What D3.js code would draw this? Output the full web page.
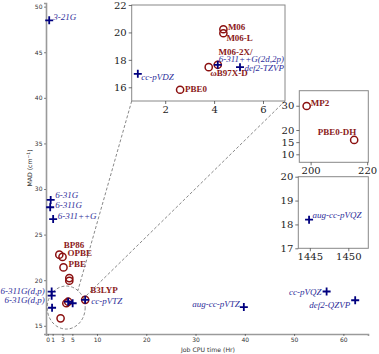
<!DOCTYPE html>
<html>
<head>
<meta charset="utf-8">
<script src="https://cdn.jsdelivr.net/npm/d3@7"></script>
<style>
  body { margin: 0; background: #fff; }
  svg { display: block; }
</style>
</head>
<body>
<div id="chart"></div>
<script>
// functionals (red circles): job CPU time (hr) and MAD (cm-1)
var functionals = ["BP86", "OPBE", "PBE", "M06", "M06-L", "M06-2X/", "\u03c9B97X-D", "PBE0", "B3LYP", "MP2", "PBE0-DH"];
var funcTime = [2.35, 3.0, 3.2, 4.38, 4.38, 4.15, 3.78, 2.61, 7.6, 198.6, 215.4];
var funcMad = [22.8, 22.55, 21.4, 20.23, 19.94, 17.64, 17.47, 15.82, 17.85, 29.9, 15.9];

// basis sets (blue plus)
var basisSets = ["3-21G", "6-31G", "6-311G", "6-311++G", "6-311G(d,p)", "6-31G(d,p)", "cc-pVDZ",
                 "6-311++G(2d,2p)", "def2-TZVP", "cc-pVTZ", "aug-cc-pVTZ", "cc-pVQZ", "def2-QZVP", "aug-cc-pVQZ"];
var basisTime = [0.3, 0.6, 0.5, 1.1, 0.8, 0.8, 0.88, 4.15, 5.06, 7.6, 39.8, 56.6, 62.4, 1444.9];
var basisMad = [48.5, 28.8, 28.0, 26.7, 18.75, 18.3, 16.98, 17.64, 17.47, 17.85, 17.05, 18.76, 17.8, 18.2];

// tick values
var mainXTicks = [0, 1, 3, 5, 10, 20, 30, 40, 50, 60];
var mainYTicks = [15, 20, 25, 30, 35, 40, 45, 50];
var zoomXTicks = [2, 4, 6];
var zoomYTicks = [16, 18, 20, 22];
var mp2XTicks = [200, 220];
var mp2YTicks = [10, 15, 20, 30];
var qzXTicks = [1445, 1450];
var qzYTicks = [17, 18, 19, 20];

var width = 379, height = 354;
var red = "#8b1010", redLabel = "#8b1a1a";
var blue = "#00007f", blueLabel = "#2e2e9a";

var svg = d3.select("#chart").append("svg")
    .attr("width", width)
    .attr("height", height);

// label offsets per panel: [dx, dy, anchor]
var mainLabels = {
    "3-21G": [4, 0, "start"], "6-31G": [4.5, -1.5, "start"], "6-311G": [5, 0.5, "start"],
    "6-311++G": [4.5, -0.5, "start"], "6-311G(d,p)": [-7, 2, "end"], "6-31G(d,p)": [-7, 7.5, "end"],
    "cc-pVTZ": [6, 4.5, "start"], "aug-cc-pVTZ": [-4, 0, "end"], "cc-pVQZ": [-5, 3, "end"],
    "def2-QZVP": [-5, 7.5, "end"],
    "BP86": [4.5, -7, "start"], "OPBE": [5, -1, "start"], "PBE": [5, 0, "start"], "B3LYP": [5, -7, "start"]
};
var zoomLabels = {
    "cc-pVDZ": [3.5, 6.5, "start"], "PBE0": [5, 2.5, "start"], "\u03c9B97X-D": [1.5, 8.7, "start"],
    "M06-2X/": [0.7, -9.5, "start"], "6-311++G(2d,2p)": [1, -2.5, "start"], "def2-TZVP": [4.5, 3.5, "start"],
    "M06": [4.5, 0.7, "start"], "M06-L": [3, 7.7, "start"]
};
var mp2Labels = { "MP2": [4, 0.5, "start"], "PBE0-DH": [2, -4.5, "end"] };
var qzLabels = { "aug-cc-pVQZ": [3.5, -1.5, "start"] };

// onlyLabelled: insets show just the marks that they label
function drawMarks(g, x, y, labels, onlyLabelled) {
    var xd = x.domain(), yd = y.domain();
    function keep(d) {
        if(onlyLabelled && !labels[d.name]) return false;
        return d.t >= xd[0] && d.t <= xd[1] && d.m >= yd[0] && d.m <= yd[1];
    }

    var fdata = functionals.map(function(n, i) { return {name: n, t: funcTime[i], m: funcMad[i], kind: "f"}; })
        .filter(keep);
    var bdata = basisSets.map(function(n, i) { return {name: n, t: basisTime[i], m: basisMad[i], kind: "b"}; })
        .filter(keep);

    g.selectAll("circle.func")
        .data(fdata)
      .enter()
        .append("circle")
        .attr("class", "func")
        .attr("cx", function(d) { return x(d.t); })
        .attr("cy", function(d) { return y(d.m); })
        .attr("r", 3.6)
        .attr("fill", "none")
        .attr("stroke", red)
        .attr("stroke-width", 1.5);

    g.selectAll("path.basis")
        .data(bdata)
      .enter()
        .append("path")
        .attr("class", "basis")
        .attr("d", function(d) {
            var cx = x(d.t), cy = y(d.m), s = 4;
            return "M" + (cx - s) + "," + cy + "H" + (cx + s) + "M" + cx + "," + (cy - s) + "V" + (cy + s);
        })
        .attr("stroke", blue)
        .attr("stroke-width", 1.8);

    var lab = fdata.concat(bdata).filter(function(d) { return labels[d.name]; });

    g.selectAll("text.lab")
        .data(lab)
      .enter()
        .append("text")
        .attr("class", "lab")
        .attr("x", function(d) { return x(d.t) + labels[d.name][0]; })
        .attr("y", function(d) { return y(d.m) + labels[d.name][1]; })
        .attr("text-anchor", function(d) { return labels[d.name][2]; })
        .attr("font-family", "'Liberation Serif', 'Times New Roman', serif")
        .attr("font-size", 9)
        .attr("font-weight", function(d) { return d.kind == "f" ? "bold" : "normal"; })
        .attr("font-style", function(d) { return d.kind == "f" ? "normal" : "italic"; })
        .attr("fill", function(d) { return d.kind == "f" ? redLabel : blueLabel; })
        .text(function(d) { return d.name; });
}

// ---------- main axes ----------
var x = d3.scaleLinear().domain([-0.35, 65]).range([46, 368]);
var y = d3.scaleLinear().domain([14.1, 50.4]).range([334, 3]);

var xAxis = svg.append("g")
    .attr("transform", "translate(0," + 334 + ")")
    .call(d3.axisBottom(x).tickValues(mainXTicks).tickFormat(d3.format("d")).tickSize(2).tickPadding(1.5));
var yAxis = svg.append("g")
    .attr("transform", "translate(" + 46 + ",0)")
    .call(d3.axisLeft(y).tickValues(mainYTicks).tickFormat(d3.format("d")).tickSize(2).tickPadding(1.5));

[xAxis, yAxis].forEach(function(a) {
    a.select(".domain").attr("stroke", "#9a9a9a").attr("stroke-width", 1.6);
    a.selectAll(".tick line").attr("stroke", "#333").attr("stroke-width", 0.6);
    a.selectAll(".tick text")
        .attr("font-family", "'DejaVu Sans', sans-serif")
        .attr("font-size", 6)
        .attr("fill", "#333");
});

svg.append("text")
    .attr("x", 208)
    .attr("y", 351.5)
    .attr("text-anchor", "middle")
    .attr("font-family", "'DejaVu Sans', sans-serif")
    .attr("font-size", 6.2)
    .attr("fill", "#333")
    .text("Job CPU time (Hr)");

var ylab = svg.append("text")
    .attr("transform", "translate(32,168) rotate(-90)")
    .attr("text-anchor", "middle")
    .attr("font-family", "'DejaVu Sans', sans-serif")
    .attr("font-size", 6.2)
    .attr("fill", "#333");
ylab.append("tspan").text("MAD (cm");
ylab.append("tspan").attr("baseline-shift", "super").attr("font-size", 4.5).text("\u22121");
ylab.append("tspan").text(")");

// dashed ellipse around the cluster
var ell = {t: 3.75, m: 17.0, rt: 3.85, rm: 2.36};
var ecx = x(ell.t), ecy = y(ell.m);
var erx = x(ell.t + ell.rt) - ecx, ery = ecy - y(ell.m + ell.rm);
svg.append("ellipse")
    .attr("cx", ecx).attr("cy", ecy)
    .attr("rx", erx).attr("ry", ery)
    .attr("fill", "none")
    .attr("stroke", "#555")
    .attr("stroke-width", 0.7)
    .attr("stroke-dasharray", "3,2");

drawMarks(svg.append("g"), x, y, mainLabels, false);

// ---------- inset panels ----------
function inset(box, xd, yd, xt, yt, labels) {
    var ix = d3.scaleLinear().domain(xd).range([box[0], box[2]]);
    var iy = d3.scaleLinear().domain(yd).range([box[3], box[1]]);
    var g = svg.append("g");
    g.append("rect")
        .attr("x", box[0]).attr("y", box[1])
        .attr("width", box[2] - box[0]).attr("height", box[3] - box[1])
        .attr("fill", "#fff")
        .attr("stroke", "#888")
        .attr("stroke-width", 1);
    var ax = g.append("g").attr("transform", "translate(0," + box[3] + ")")
        .call(d3.axisBottom(ix).tickValues(xt).tickFormat(d3.format("d")).tickSize(3).tickPadding(2));
    var ay = g.append("g").attr("transform", "translate(" + box[0] + ",0)")
        .call(d3.axisLeft(iy).tickValues(yt).tickFormat(d3.format("d")).tickSize(3).tickPadding(2));
    [ax, ay].forEach(function(a) {
        a.select(".domain").remove();
        a.selectAll(".tick line").attr("stroke", "#333").attr("stroke-width", 0.7);
        a.selectAll(".tick text")
            .attr("font-family", "'DejaVu Serif', serif")
            .attr("font-size", 10)
            .attr("fill", "#222");
    });
    drawMarks(g, ix, iy, labels, true);
    return {x: ix, y: iy};
}

var zoomBox = [131.7, 5, 285, 101];

// connector lines from the zoom inset to the ellipse
function ellPoint(deg) {
    var a = deg * Math.PI / 180;
    return [ecx + erx * Math.cos(a), ecy + ery * Math.sin(a)];
}
[[zoomBox[0], zoomBox[3], -52], [zoomBox[2], zoomBox[3], -25]].forEach(function(c) {
    var p = ellPoint(c[2]);
    svg.append("line")
        .attr("x1", c[0]).attr("y1", c[1])
        .attr("x2", p[0]).attr("y2", p[1])
        .attr("stroke", "#555")
        .attr("stroke-width", 0.7)
        .attr("stroke-dasharray", "3,2");
});

inset(zoomBox, [0.63, 6.9], [15, 22], zoomXTicks, zoomYTicks, zoomLabels);
inset([299.3, 90.7, 368.3, 162.3], [196, 220.4], [6.7, 36.2], mp2XTicks, mp2YTicks, mp2Labels);
inset([298.3, 176.7, 368.3, 248.3], [1443.5, 1452.6], [17, 20], qzXTicks, qzYTicks, qzLabels);
</script>
</body>
</html>
